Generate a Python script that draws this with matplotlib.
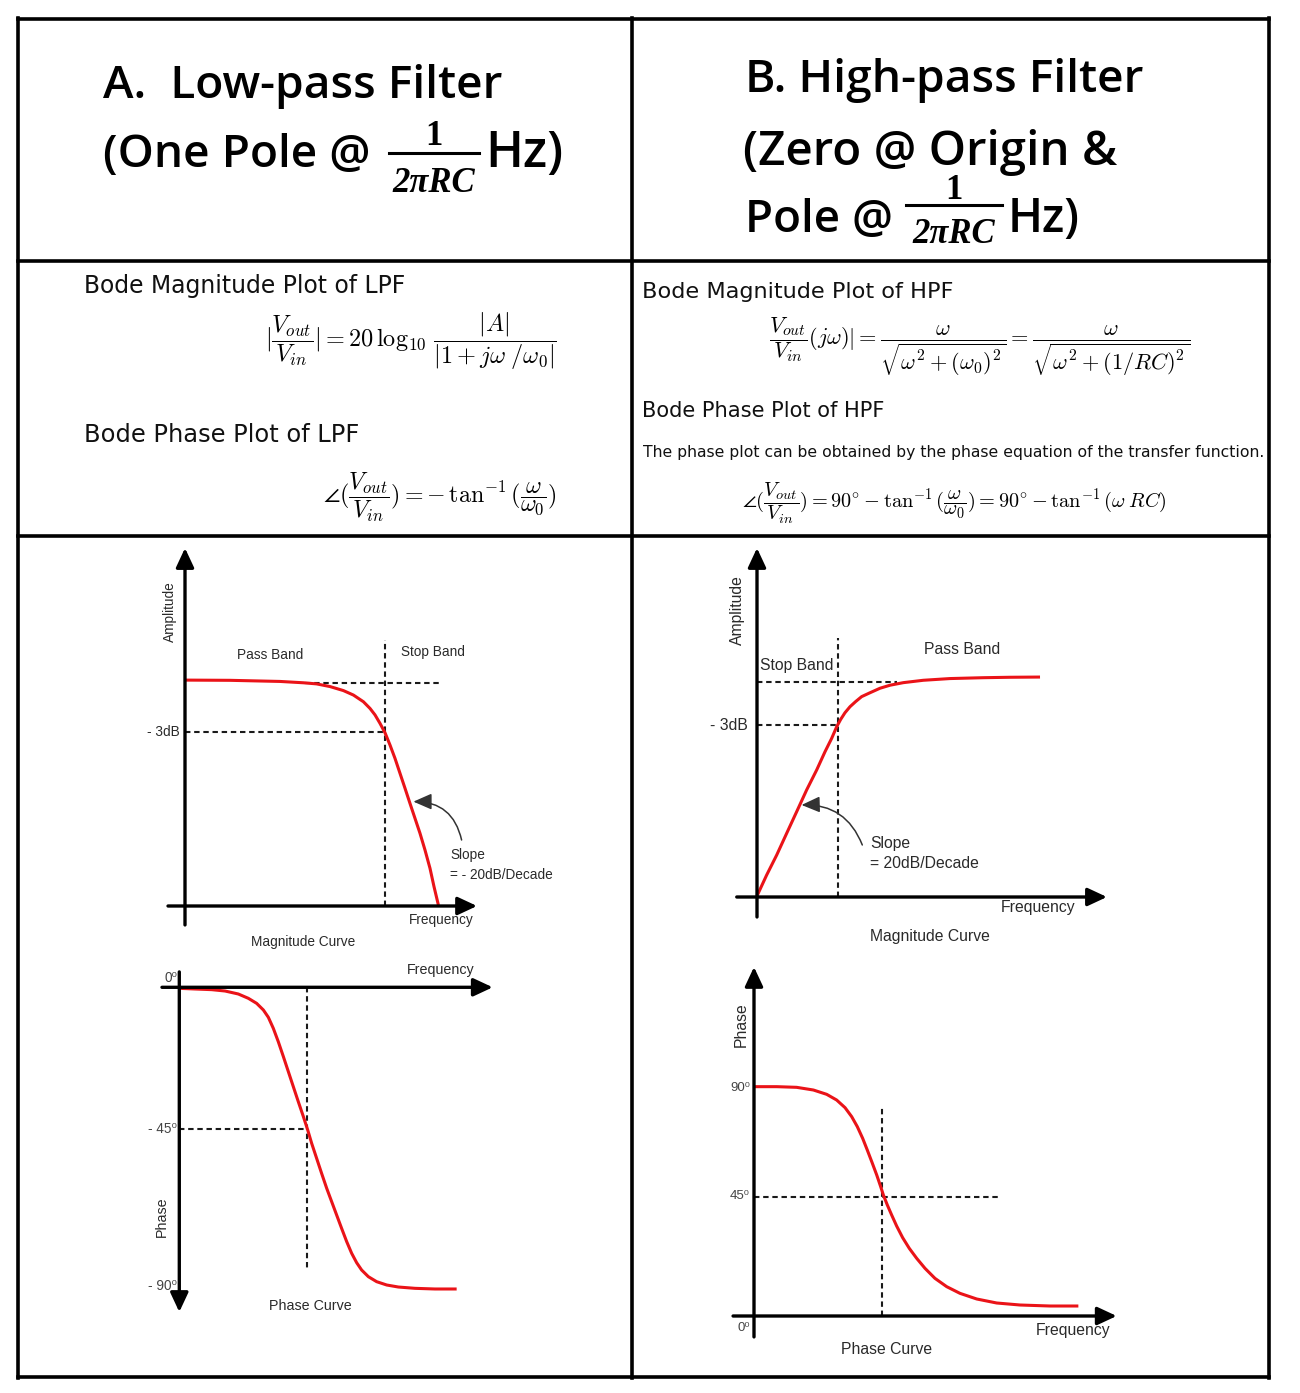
import matplotlib
matplotlib.use('Agg')
import matplotlib.pyplot as plt

# ---------------------------------------------------------------- data
# Low-pass magnitude curve (frequency normalised to cut-off, amplitude to pass band)
lpf_mag_freq = [0.0, 0.225, 0.475, 0.592, 0.658, 0.725, 0.792, 0.842, 0.892, 0.925,
                0.950, 0.975, 1.0, 1.025, 1.05, 1.075, 1.10, 1.125, 1.15, 1.175,
                1.20, 1.225, 1.245, 1.267]
lpf_mag_amp = [1.013, 1.012, 1.007, 1.001, 0.996, 0.984, 0.966, 0.946, 0.916, 0.886,
               0.857, 0.819, 0.777, 0.722, 0.662, 0.595, 0.528, 0.460, 0.393, 0.326,
               0.251, 0.169, 0.087, 0.004]
lpf_mag_levels = [1.0, 0.781]          # pass band level, -3 dB level
lpf_mag_ticks = ['- 3dB']

# High-pass magnitude curve
hpf_mag_freq = [0.0, 0.119, 0.243, 0.366, 0.490, 0.613, 0.737, 0.840, 0.922, 0.984,
                1.033, 1.086, 1.148, 1.218, 1.292, 1.395, 1.519, 1.642, 1.807, 2.053,
                2.383, 2.794, 3.123, 3.494]
hpf_mag_amp = [0.005, 0.102, 0.195, 0.296, 0.397, 0.498, 0.591, 0.676, 0.738, 0.792,
               0.826, 0.857, 0.885, 0.909, 0.932, 0.950, 0.971, 0.985, 0.997, 1.008,
               1.016, 1.020, 1.022, 1.023]
hpf_mag_levels = [1.0, 0.80]
hpf_mag_ticks = ['- 3dB']

# Low-pass phase curve (picture units, dashed level = -45)
lpf_ph_freq = [0.0, 0.123, 0.254, 0.359, 0.463, 0.542, 0.607, 0.660, 0.699, 0.738,
               0.777, 0.817, 0.856, 0.895, 0.934, 0.974, 1.008, 1.039, 1.078, 1.117,
               1.157, 1.196, 1.235, 1.274, 1.314, 1.353, 1.392, 1.431, 1.484, 1.549,
               1.628, 1.719, 1.850, 2.007, 2.177]
lpf_ph_deg = [-0.33, -0.54, -0.75, -1.18, -2.13, -3.51, -5.11, -7.23, -9.56, -13.07,
              -17.32, -22.09, -26.87, -31.65, -36.42, -41.2, -45.45, -49.69, -54.47, -59.25,
              -64.02, -68.27, -72.52, -76.76, -81.01, -84.72, -87.7, -90.03, -92.16, -93.75,
              -94.81, -95.45, -95.87, -96.08, -96.08]
lpf_ph_ticks = ['0\u2070', '- 45\u2070', '- 90\u2070']
lpf_ph_tick_pos = [3.0, -45.2, -95.2]

# High-pass phase curve (picture units, dashed level = 45)
hpf_ph_freq = [0.0, 0.178, 0.334, 0.465, 0.569, 0.647, 0.713, 0.765, 0.809, 0.851,
               0.887, 0.924, 0.961, 0.992, 1.013, 1.044, 1.078, 1.117, 1.164, 1.216,
               1.274, 1.339, 1.417, 1.509, 1.613, 1.744, 1.900, 2.083, 2.318, 2.540]
hpf_ph_deg = [86.54, 86.54, 86.29, 85.28, 83.65, 81.51, 78.62, 75.22, 71.45, 67.04,
              62.64, 57.99, 53.21, 48.81, 45.66, 41.89, 38.11, 33.96, 29.56, 25.53,
              21.76, 17.99, 14.21, 11.07, 8.55, 6.42, 4.91, 4.15, 3.77, 3.77]
hpf_ph_ticks = ['90\u2070', '45\u2070', '0\u2070']
hpf_ph_tick_pos = [86.2, 45.3, -4.5]

# ---------------------------------------------------------------- figure
W, H = 1300, 1393
fig = plt.figure(figsize=(W / 100, H / 100), dpi=100)
fig.patch.set_facecolor('white')
cv = fig.add_axes([0, 0, 1, 1])
cv.set_xlim(0, W)
cv.set_ylim(H, 0)
cv.axis('off')

RED = '#ea1318'
TXT = '#2a2a2a'
SANS = ['Liberation Sans', 'DejaVu Sans']
TITLE_FONT = ['Open Sans', 'DejaVu Sans']
SERIF = ['Liberation Serif', 'DejaVu Serif']

# table grid
TL = 2.6
for x in (18, 632, 1269):
    cv.plot([x, x], [18, 1378], color='black', lw=TL, solid_capstyle='projecting')
for y in (19, 261, 536, 1377):
    cv.plot([18, 1269], [y, y], color='black', lw=TL, solid_capstyle='projecting')

fig.canvas.draw()
R = fig.canvas.get_renderer()


def fit(t, width):
    bb = t.get_window_extent(renderer=R)
    t.set_fontsize(t.get_fontsize() * width / bb.width)
    return t


def title(x, y, s, width, size=30):
    t = cv.text(x, y, s, family=TITLE_FONT, weight='semibold', fontsize=size,
                ha='left', va='baseline', color='black')
    fit(t, width)
    return t


def fraction(xc, yline, half, ynum, yden, size=25):
    cv.plot([xc - half, xc + half], [yline, yline], color='black', lw=2.2)
    cv.text(xc, ynum, '1', family=SERIF, weight='bold', fontsize=size,
            ha='center', va='baseline')
    cv.text(xc, yden, '2\u03c0RC', family=SERIF, weight='bold', style='italic',
            fontsize=size, ha='center', va='baseline')


# headers
title(103, 98, 'A.  Low-pass Filter', 399)
title(103, 167, '(One Pole @', 267)
fraction(434, 153, 45, 145, 192)
title(485, 167, 'Hz)', 78)

title(745, 92, 'B. High-pass Filter', 398)
title(743, 165, '(Zero @ Origin &', 374)
title(745, 232, 'Pole @', 148)
fraction(954, 205, 48, 199, 243)
title(1008, 232, 'Hz)', 72)


# section texts
def section(x, y, s, width, size=16):
    t = cv.text(x, y, s, family='DejaVu Sans', fontsize=size, ha='left',
                va='baseline', color='#111111')
    fit(t, width)


section(84, 293, 'Bode Magnitude Plot of LPF', 323)
section(84, 442, 'Bode Phase Plot of LPF', 275)
section(642, 298, 'Bode Magnitude Plot of HPF', 312)
section(642, 417, 'Bode Phase Plot of HPF', 243)
section(643, 457, 'The phase plot can be obtained by the phase equation of the transfer function.', 620, 11)


def formula(x, y, s, width, size=16):
    t = cv.text(x, y, s, math_fontfamily='cm', fontsize=size, ha='left', va='center',
                color='black')
    fit(t, width)


formula(265, 341, r'$|\dfrac{V_{out}}{V_{in}}| = 20\,\log_{10}\,\dfrac{|A|}{|1 + j\omega\;/\omega_0|}$', 292)
formula(323, 497, r'$\angle(\dfrac{V_{out}}{V_{in}}) = -\,\tan^{-1}(\dfrac{\omega}{\omega_0})$', 234)
formula(769, 347, r'$\dfrac{V_{out}}{V_{in}}(j\omega)| = \dfrac{\omega}{\sqrt{\omega^2 + (\omega_0)^2}} = \dfrac{\omega}{\sqrt{\omega^2 + (1/RC)^2}}$', 421)
formula(742, 503, r'$\angle(\dfrac{V_{out}}{V_{in}}) = 90^{\circ} - \tan^{-1}(\dfrac{\omega}{\omega_0}) = 90^{\circ} - \tan^{-1}(\omega\;RC)$', 425)


# ---------------------------------------------------------------- diagrams
def diagram(ox, oy, sx, sy, xlim, ylim):
    left, right = ox + xlim[0] * sx, ox + xlim[1] * sx
    top, bottom = oy - ylim[1] * sy, oy - ylim[0] * sy
    ax = fig.add_axes([left / W, 1 - bottom / H, (right - left) / W, (bottom - top) / H])
    ax.set_xlim(*xlim)
    ax.set_ylim(*ylim)
    ax.axis('off')
    return ax


def arrow(ax, start, end, lw=2.4):
    ax.annotate('', xy=end, xytext=start, annotation_clip=False,
                arrowprops=dict(arrowstyle='-|>,head_length=0.9,head_width=0.42',
                                lw=lw, color='black', shrinkA=0, shrinkB=0,
                                mutation_scale=13))


def dashed(ax, xs, ys):
    ax.plot(xs, ys, color='#1a1a1a', lw=1.5, ls=(0, (2.6, 1.8)), clip_on=False)


def curve(ax, xs, ys):
    ax.plot(xs, ys, color=RED, lw=2.2, clip_on=False, solid_capstyle='butt',
            solid_joinstyle='round')


def label(ax, x, y, s, size, ha='center', rot=0, color=TXT):
    ax.text(x, y, s, family=SANS, fontsize=size, ha=ha, va='center', rotation=rot,
            color=color, clip_on=False)


def slope(ax, tail, head, rad):
    ax.annotate('', xy=head, xytext=tail, annotation_clip=False,
                arrowprops=dict(arrowstyle='-|>,head_length=0.8,head_width=0.35',
                                connectionstyle='arc3,rad=%s' % rad, lw=1.1,
                                color='#333333', shrinkA=0, shrinkB=0,
                                mutation_scale=14))


# --- LPF magnitude
a = diagram(185, 906, 200, 223, (-0.3, 1.9), (-0.3, 1.7))
arrow(a, (0, -0.085), (0, 1.605))
arrow(a, (-0.085, 0), (1.46, 0))
dashed(a, [0.6, 1.275], [lpf_mag_levels[0]] * 2)
dashed(a, [0, 1], [lpf_mag_levels[1]] * 2)
dashed(a, [1, 1], [0, 1.193])
curve(a, lpf_mag_freq, lpf_mag_amp)
fs = 9.8
label(a, -0.075, 1.32, 'Amplitude', fs, rot=90)
label(a, 0.425, 1.126, 'Pass Band', fs)
label(a, 1.24, 1.138, 'Stop Band', fs)
label(a, -0.025, lpf_mag_levels[1], lpf_mag_ticks[0], fs, ha='right')
label(a, 1.325, 0.229, 'Slope', fs, ha='left')
label(a, 1.325, 0.139, '= - 20dB/Decade', fs, ha='left')
label(a, 1.283, -0.063, 'Frequency', fs)
label(a, 0.592, -0.16, 'Magnitude Curve', fs)
slope(a, (1.383, 0.296), (1.142, 0.468), 0.4)

# --- HPF magnitude
b = diagram(757, 897, 81, 215, (-0.7, 4.6), (-0.3, 1.7))
arrow(b, (0, -0.093), (0, 1.623))
arrow(b, (-0.25, 0), (4.32, 0))
dashed(b, [0, 1.73], [hpf_mag_levels[0]] * 2)
dashed(b, [0, 1], [hpf_mag_levels[1]] * 2)
dashed(b, [1, 1], [0, 1.205])
curve(b, hpf_mag_freq, hpf_mag_amp)
fs = 11.3
label(b, -0.235, 1.335, 'Amplitude', fs, rot=90)
label(b, 0.49, 1.079, 'Stop Band', fs)
label(b, 2.53, 1.149, 'Pass Band', fs)
label(b, -0.11, hpf_mag_levels[1], hpf_mag_ticks[0], fs, ha='right')
label(b, 1.395, 0.251, 'Slope', fs, ha='left')
label(b, 1.395, 0.156, '= 20dB/Decade', fs, ha='left')
label(b, 3.47, -0.05, 'Frequency', fs)
label(b, 2.14, -0.185, 'Magnitude Curve', fs)
slope(b, (1.30, 0.242), (0.55, 0.428), 0.35)

# --- LPF phase
c = diagram(179.3, 987.3, 127.4, 3.14, (-0.4, 2.7), (-110, 10))
arrow(c, (0, 4.9), (0, -103.4))
arrow(c, (-0.136, 0), (2.46, 0))
dashed(c, [0, 1], [-45, -45])
dashed(c, [1, 1], [0, -89.5])
curve(c, lpf_ph_freq, lpf_ph_deg)
fs = 10.3
for s, p in zip(lpf_ph_ticks, lpf_ph_tick_pos):
    label(c, -0.015, p, s, 9.8, ha='right', color='#444444')
label(c, -0.133, -73.1, 'Phase', fs, rot=90)
label(c, 2.05, 5.5, 'Frequency', fs)
label(c, 1.026, -101.5, 'Phase Curve', fs)

# --- HPF phase
d = diagram(754, 1316, 127.7, 2.65, (-0.4, 3.1), (-15, 135))
arrow(d, (0, -7.9), (0, 131.7))
arrow(d, (-0.164, 0), (2.84, 0))
dashed(d, [0, 1.93], [45, 45])
dashed(d, [1, 1], [0, 78.9])
curve(d, hpf_ph_freq, hpf_ph_deg)
fs = 11.3
for s, p in zip(hpf_ph_ticks, hpf_ph_tick_pos):
    label(d, -0.03, p, s, 9.5, ha='right', color='#444444')
label(d, -0.096, 109.8, 'Phase', fs, rot=90)
label(d, 2.50, -5.3, 'Frequency', fs)
label(d, 1.039, -12.8, 'Phase Curve', fs)

fig.savefig('out.png', dpi=100, facecolor='white')
